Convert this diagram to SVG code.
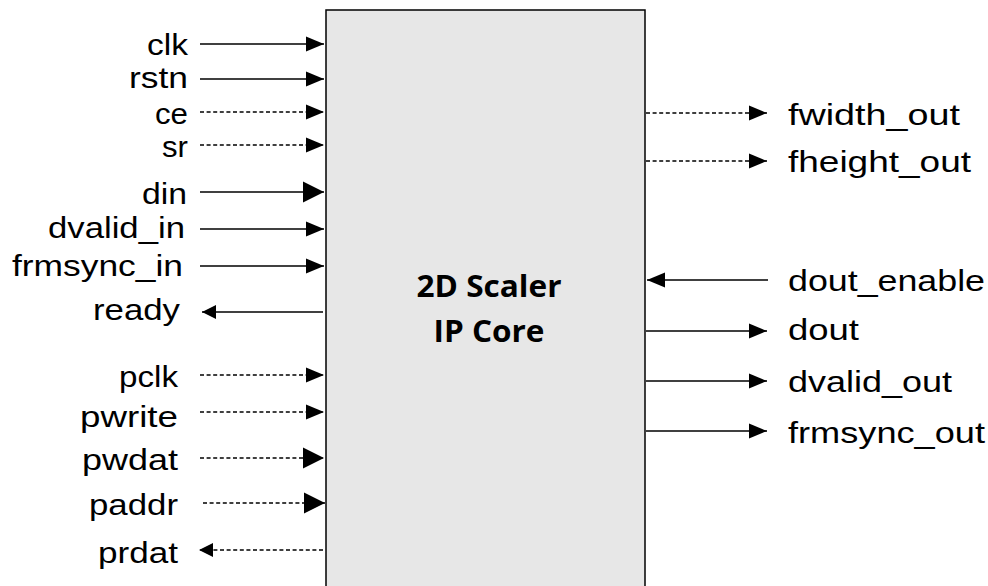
<svg xmlns="http://www.w3.org/2000/svg" width="988" height="586" viewBox="0 0 988 586">
<style>
.lbl{font-family:"Liberation Sans",Arial,sans-serif;font-size:29px;fill:#000}
.l{text-anchor:end}
.core{font-family:"Open Sans","Liberation Sans",sans-serif;font-size:30px;font-weight:bold;fill:#000;text-anchor:middle}
.s{stroke:#000;stroke-width:1.6;fill:none}
.d{stroke:#000;stroke-width:1.4;fill:none;stroke-dasharray:4 2.6}
.n{marker-end:url(#an)}
.b{marker-end:url(#ab)}
.m{marker-end:url(#am)}
</style>
<defs>
<marker id="an" markerUnits="userSpaceOnUse" markerWidth="18" markerHeight="16" refX="18" refY="8" orient="auto" overflow="visible"><path d="M0,0.5 L18,8 L0,15.5 Z" fill="#000"/></marker>
<marker id="ab" markerUnits="userSpaceOnUse" markerWidth="21" markerHeight="21" refX="21" refY="10.5" orient="auto" overflow="visible"><path d="M0,0 L21,10.5 L0,21 Z" fill="#000"/></marker>
<marker id="am" markerUnits="userSpaceOnUse" markerWidth="14" markerHeight="14" refX="14" refY="7" orient="auto" overflow="visible"><path d="M0,0 L14,7 L0,14 Z" fill="#000"/></marker>
</defs>
<g id="core">
<rect x="326" y="10" width="319" height="590" fill="#e7e7e7" stroke="#000" stroke-width="1.5"/>
<text class="core" x="489" y="297" textLength="145" lengthAdjust="spacingAndGlyphs">2D Scaler</text>
<text class="core" x="489" y="342" textLength="111" lengthAdjust="spacingAndGlyphs">IP Core</text>
</g>
<g id="connectors">
<line class="s n" x1="200" y1="44" x2="324" y2="44"/>
<line class="s n" x1="200" y1="79" x2="324" y2="79"/>
<line class="d n" x1="200" y1="112" x2="324" y2="112"/>
<line class="d n" x1="200" y1="145" x2="324" y2="145"/>
<line class="s b" x1="200" y1="192" x2="324" y2="192"/>
<line class="s n" x1="200" y1="229" x2="324" y2="229"/>
<line class="s n" x1="200" y1="266" x2="324" y2="266"/>
<line class="s m" x1="323" y1="312" x2="202" y2="312"/>
<line class="d n" x1="200" y1="375" x2="324" y2="375"/>
<line class="d n" x1="200" y1="412" x2="324" y2="412"/>
<line class="d b" x1="200" y1="458" x2="324" y2="458"/>
<line class="d b" x1="203" y1="503" x2="325" y2="503"/>
<line class="d m" x1="323" y1="550" x2="199" y2="550"/>
<line class="d n" x1="646" y1="113" x2="767" y2="113"/>
<line class="d n" x1="646" y1="161" x2="767" y2="161"/>
<line class="s n" x1="768" y1="280" x2="647" y2="280"/>
<line class="s n" x1="646" y1="331" x2="767" y2="331"/>
<line class="s n" x1="646" y1="381" x2="767" y2="381"/>
<line class="s n" x1="646" y1="431" x2="767" y2="431"/>
</g>
<g id="inputs">
<text class="lbl l" x="188" y="55" textLength="41" lengthAdjust="spacingAndGlyphs">clk</text>
<text class="lbl l" x="188" y="88" textLength="59" lengthAdjust="spacingAndGlyphs">rstn</text>
<text class="lbl l" x="188" y="124" textLength="33" lengthAdjust="spacingAndGlyphs">ce</text>
<text class="lbl l" x="188" y="157" textLength="26" lengthAdjust="spacingAndGlyphs">sr</text>
<text class="lbl l" x="187" y="204" textLength="45" lengthAdjust="spacingAndGlyphs">din</text>
<text class="lbl l" x="185" y="238" textLength="137" lengthAdjust="spacingAndGlyphs">dvalid_in</text>
<text class="lbl l" x="183" y="276" textLength="171" lengthAdjust="spacingAndGlyphs">frmsync_in</text>
<text class="lbl l" x="180" y="320" textLength="87" lengthAdjust="spacingAndGlyphs">ready</text>
<text class="lbl l" x="178" y="387" textLength="59" lengthAdjust="spacingAndGlyphs">pclk</text>
<text class="lbl l" x="178" y="427" textLength="98" lengthAdjust="spacingAndGlyphs">pwrite</text>
<text class="lbl l" x="178" y="470" textLength="96" lengthAdjust="spacingAndGlyphs">pwdat</text>
<text class="lbl l" x="178" y="515" textLength="89" lengthAdjust="spacingAndGlyphs">paddr</text>
<text class="lbl l" x="178" y="563" textLength="80" lengthAdjust="spacingAndGlyphs">prdat</text>
</g>
<g id="outputs">
<text class="lbl" x="788" y="125" textLength="172" lengthAdjust="spacingAndGlyphs">fwidth_out</text>
<text class="lbl" x="788" y="172" textLength="183" lengthAdjust="spacingAndGlyphs">fheight_out</text>
<text class="lbl" x="788" y="291" textLength="197" lengthAdjust="spacingAndGlyphs">dout_enable</text>
<text class="lbl" x="788" y="340" textLength="71" lengthAdjust="spacingAndGlyphs">dout</text>
<text class="lbl" x="788" y="392" textLength="164" lengthAdjust="spacingAndGlyphs">dvalid_out</text>
<text class="lbl" x="788" y="443" textLength="197" lengthAdjust="spacingAndGlyphs">frmsync_out</text>
</g>
</svg>
